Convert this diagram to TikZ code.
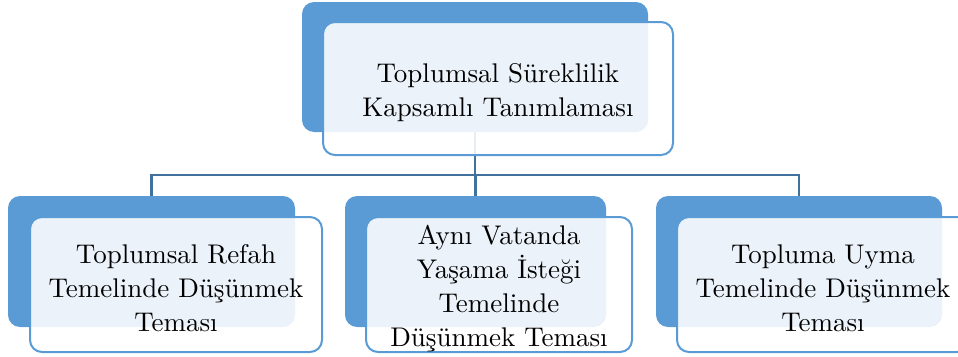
\documentclass[tikz,border=0pt]{standalone}
\usepackage{fontspec}
\setmainfont{lmroman10-regular}[Extension=.otf]
\begin{document}
\begin{tikzpicture}[x=1pt,y=-1pt,
  backbox/.style={draw=none, fill=boxblue, rounded corners=12pt, inner sep=0pt},
  frontbox/.style={draw=boxblue, line width=2pt, fill=white, fill opacity=0.88, rounded corners=12pt, inner sep=0pt},
  conn/.style={draw=connblue, line width=2.5pt},
  boxtext/.style={font=\fontsize{27}{31.5}\selectfont, align=center, text=black, inner sep=0pt, yshift=-4pt}
]
\definecolor{boxblue}{HTML}{5B9BD5}
\definecolor{connblue}{HTML}{41719C}
\useasboundingbox (0,0) rectangle (958,356);
\clip (0,0) rectangle (958,356);
% back boxes
\node[backbox, minimum width=346pt, minimum height=130pt] (tb) at (475,67) {};
\node[backbox, minimum width=287pt, minimum height=131pt] (lb) at (151.5,261.5) {};
\node[backbox, minimum width=261pt, minimum height=131pt] (mb) at (475.5,261.5) {};
\node[backbox, minimum width=286pt, minimum height=131pt] (rb) at (799,261.5) {};
% connectors
\coordinate (bus) at (475,175);
\draw[conn] (tb.south) -- (tb.south |- bus);
\draw[conn] (lb.north) -- (lb.north |- bus) -- (rb.north |- bus) -- (rb.north);
\draw[conn] (mb.north |- bus) -- (mb.north);
% front boxes
\node[frontbox, minimum width=350pt, minimum height=133pt] (tf) at (498,88.5) {};
\node[frontbox, minimum width=292pt, minimum height=135pt] (lf) at (176,284.5) {};
\node[frontbox, minimum width=266pt, minimum height=135pt] (mf) at (499,284.5) {};
\node[frontbox, minimum width=292pt, minimum height=135pt] (rf) at (823,284.5) {};
% texts
\node[boxtext] (tt) at (tf) {Toplumsal Süreklilik\\[2.5pt]Kapsamlı Tanımlaması};
\node[boxtext] (lt) at (lf) {Toplumsal Refah\\[2.5pt]Temelinde Düşünmek\\[2.5pt]Teması};
\node[boxtext] (mt) at (mf) {Aynı Vatanda\\[2.5pt]Yaşama İsteği\\[2.5pt]Temelinde\\[2.5pt]Düşünmek Teması};
\node[boxtext] (rt) at (rf) {Topluma Uyma\\[2.5pt]Temelinde Düşünmek\\[2.5pt]Teması};
\end{tikzpicture}
\end{document}
